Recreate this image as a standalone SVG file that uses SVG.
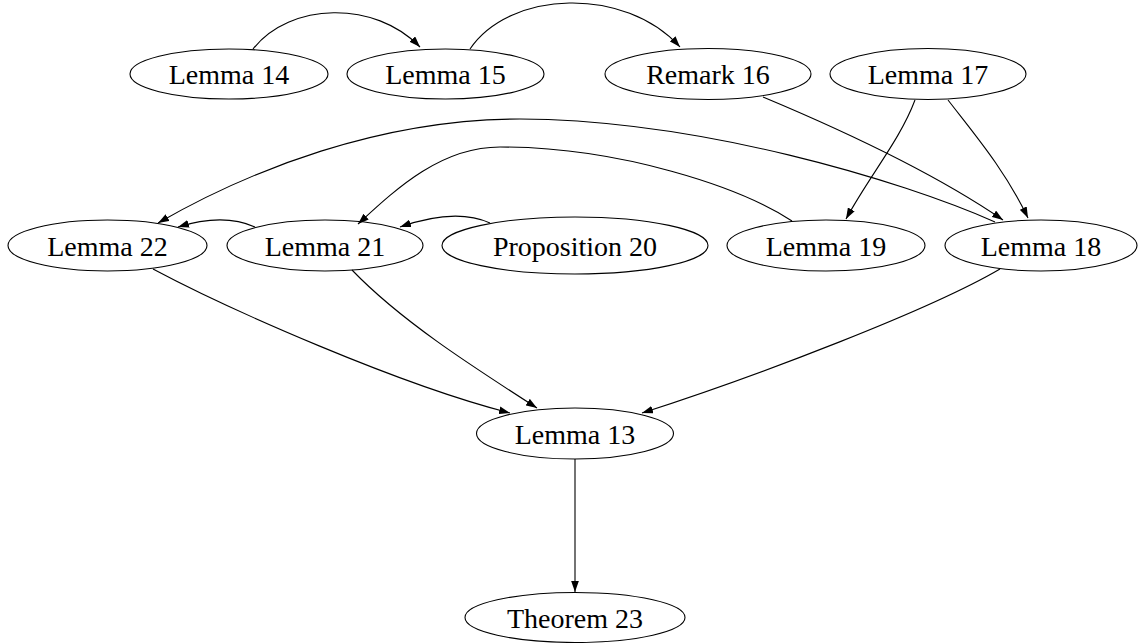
<svg xmlns="http://www.w3.org/2000/svg" width="1138" height="643" viewBox="0 0 1138 643">
<style>
.n ellipse{fill:none;stroke:#000;stroke-width:1.1}
.n text{font-family:"Liberation Serif","Times New Roman",serif;font-size:28px;fill:#000;text-anchor:middle}
.e path{fill:none;stroke:#000;stroke-width:1.1;marker-end:url(#ah)}
</style>
<defs>
<marker id="ah" markerUnits="userSpaceOnUse" viewBox="0 0 10 7" markerWidth="11" markerHeight="8" refX="10" refY="3.5" orient="auto">
<path d="M0,0 L10,3.5 L0,7 z" fill="#000"/>
</marker>
</defs>
<rect width="1138" height="643" fill="#fff"/>
<g id="connectors" class="e">
<path d="M253,49 C290,2 375,0 420,47"/>
<path d="M470,49 C510,-10 625,-14 680,47"/>
<path d="M763,97 C830,125 930,170 1003,220"/>
<path d="M915,100 C900,140 870,175 846,219"/>
<path d="M948,100 C975,135 1005,170 1028,218"/>
<path d="M995,222 C900,180 700,120 520,119 C380,119 250,170 158,223"/>
<path d="M792,221 C740,187 620,147 500,147 C440,147 395,190 358,224"/>
<path d="M490,223 C470,214 440,213 400,227"/>
<path d="M255,227 C235,218 210,217 178,227"/>
<path d="M153,269 C230,310 400,385 510,413"/>
<path d="M352,270 C400,320 470,365 537,408"/>
<path d="M1000,269 C930,310 760,375 642,413"/>
<path d="M575,459 L575,592"/>
</g>
<g id="lemma14" class="n"><ellipse cx="229" cy="74" rx="99" ry="25"/><text x="229" y="84">Lemma 14</text></g>
<g id="lemma15" class="n"><ellipse cx="445.5" cy="74" rx="98.5" ry="25"/><text x="445.5" y="84">Lemma 15</text></g>
<g id="remark16" class="n"><ellipse cx="708" cy="74" rx="103" ry="25.5"/><text x="708" y="84">Remark 16</text></g>
<g id="lemma17" class="n"><ellipse cx="928" cy="74" rx="98" ry="25.5"/><text x="928" y="84">Lemma 17</text></g>
<g id="lemma22" class="n"><ellipse cx="107.5" cy="245.5" rx="99.5" ry="25.5"/><text x="107.5" y="255.5">Lemma 22</text></g>
<g id="lemma21" class="n"><ellipse cx="325" cy="245.5" rx="98" ry="25.5"/><text x="325" y="255.5">Lemma 21</text></g>
<g id="proposition20" class="n"><ellipse cx="575" cy="245.5" rx="133" ry="28.5"/><text x="575" y="255.5">Proposition 20</text></g>
<g id="lemma19" class="n"><ellipse cx="826" cy="245.5" rx="99" ry="25.5"/><text x="826" y="255.5">Lemma 19</text></g>
<g id="lemma18" class="n"><ellipse cx="1041" cy="245.5" rx="96" ry="25.5"/><text x="1041" y="255.5">Lemma 18</text></g>
<g id="lemma13" class="n"><ellipse cx="575" cy="433.5" rx="98.5" ry="25.5"/><text x="575" y="443.5">Lemma 13</text></g>
<g id="theorem23" class="n"><ellipse cx="575" cy="617.5" rx="110" ry="25"/><text x="575" y="627.5">Theorem 23</text></g>
</svg>
